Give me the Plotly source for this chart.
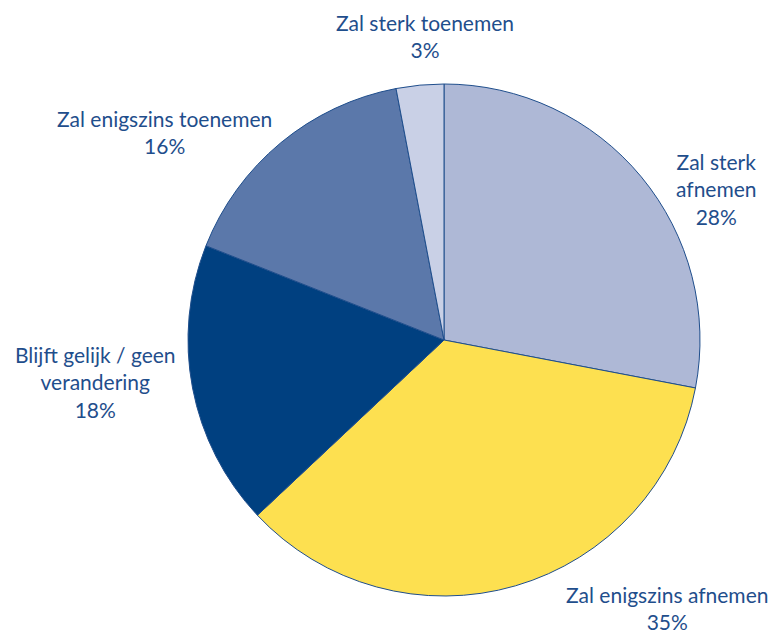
import plotly.graph_objects as go

labels = ["Zal sterk afnemen", "Zal enigszins afnemen", "Blijft gelijk / geen verandering",
          "Zal enigszins toenemen", "Zal sterk toenemen"]
values = [28, 35, 18, 16, 3]
colors = ["#AEB8D6", "#FDE050", "#004080", "#5B78AA", "#C9D0E6"]
label_texts = ["Zal sterk<br>afnemen<br>28%", "Zal enigszins afnemen<br>35%",
               "Blijft gelijk / geen<br>verandering<br>18%", "Zal enigszins toenemen<br>16%",
               "Zal sterk toenemen<br>3%"]
label_pos = [(716, 189), (667, 608), (95, 382), (164, 132), (425, 36)]

W, H = 773, 633
cx, cy, r = 444, 340, 256

fig = go.Figure(go.Pie(
    labels=labels, values=values, sort=False, direction="clockwise", rotation=0,
    marker=dict(colors=colors, line=dict(color="#1F4E8C", width=1)),
    textinfo="none", hoverinfo="label+percent", showlegend=False,
    domain=dict(x=[(cx - r) / W, (cx + r) / W], y=[(H - cy - r) / H, (H - cy + r) / H]),
))

for t, (x, y) in zip(label_texts, label_pos):
    fig.add_annotation(x=x / W, y=1 - y / H, xref="paper", yref="paper", text=t,
                       showarrow=False, align="center", xanchor="center", yanchor="middle",
                       font=dict(family="Lato", size=21, color="#1F4E8C"))

fig.update_layout(width=W, height=H, margin=dict(l=0, r=0, t=0, b=0),
                  paper_bgcolor="white", plot_bgcolor="white")
fig.write_html("out.html", config={"displayModeBar": False},
               post_script="document.body.style.margin='0';document.body.style.overflow='hidden';")
